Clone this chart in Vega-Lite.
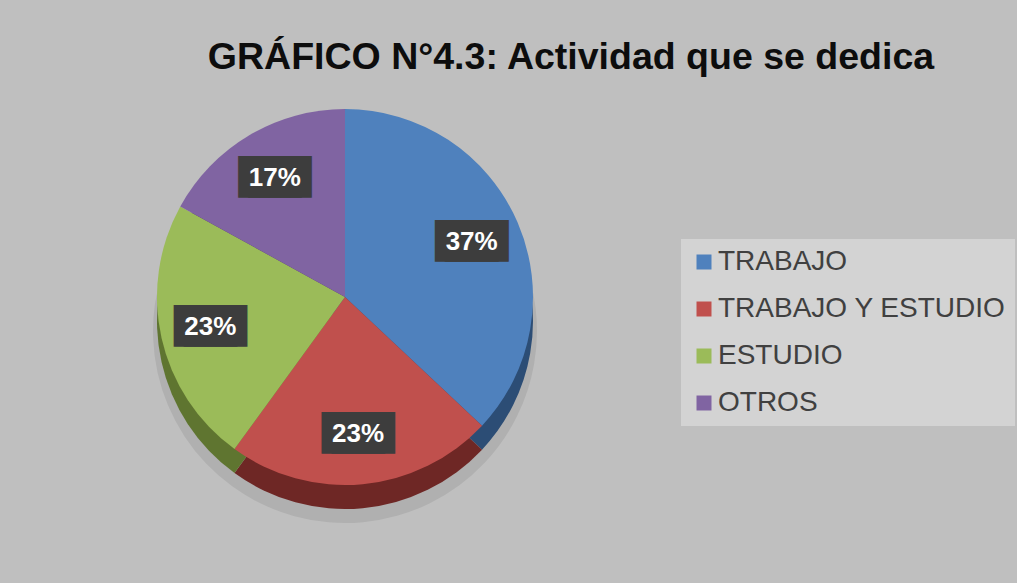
{
  "$schema": "https://vega.github.io/schema/vega-lite/v6.json",
  "width": 678,
  "height": 400,
  "autosize": {"type": "none"},
  "padding": {"left": 6, "top": 97, "right": 333, "bottom": 86},
  "background": "#bfbfbf",
  "view": {"stroke": null},
  "title": {
    "text": "GRÁFICO N°4.3: Actividad que se dedica",
    "font": "Liberation Sans",
    "fontSize": 37.5,
    "fontWeight": "bold",
    "color": "#0d0d0d",
    "anchor": "middle",
    "frame": "group",
    "dx": 226,
    "offset": -9,
    "baseline": "alphabetic"
  },
  "data": {
    "values": [
      {"cat": "TRABAJO", "pct": 0.37, "ord": 1},
      {"cat": "TRABAJO Y ESTUDIO", "pct": 0.23, "ord": 2},
      {"cat": "ESTUDIO", "pct": 0.23, "ord": 3},
      {"cat": "OTROS", "pct": 0.17, "ord": 4}
    ]
  },
  "encoding": {
    "theta": {"field": "pct", "type": "quantitative", "stack": true},
    "order": {"field": "ord", "type": "ordinal"}
  },
  "layer": [
    {
      "mark": {"type": "arc", "outerRadius": 192, "yOffset": 34, "fill": "#000000", "opacity": 0.08},
      "encoding": {"detail": {"field": "cat", "type": "nominal"}}
    },
    {
      "mark": {"type": "arc", "outerRadius": 188, "yOffset": 24},
      "encoding": {
        "fill": {
          "field": "cat",
          "type": "nominal",
          "scale": {
            "domain": ["TRABAJO", "TRABAJO Y ESTUDIO", "ESTUDIO", "OTROS"],
            "range": ["#2c4d75", "#6e2725", "#5f7530", "#4d3b62"]
          },
          "legend": null
        }
      }
    },
    {
      "mark": {"type": "arc", "outerRadius": 188},
      "encoding": {
        "color": {
          "field": "cat",
          "type": "nominal",
          "scale": {
            "domain": ["TRABAJO", "TRABAJO Y ESTUDIO", "ESTUDIO", "OTROS"],
            "range": ["#4f81bd", "#c0504d", "#9bbb59", "#8064a2"]
          },
          "legend": {
            "orient": "none",
            "legendX": 675,
            "legendY": 142,
            "title": null,
            "fillColor": "#d3d3d3",
            "padding": 9,
            "symbolType": "square",
            "symbolSize": 225,
            "symbolStrokeWidth": 0,
            "symbolOpacity": 1,
            "labelFont": "Liberation Sans",
            "labelFontSize": 28,
            "labelColor": "#404040",
            "rowPadding": 19,
            "labelOffset": 0,
            "labelLimit": 400
          }
        }
      }
    },
    {
      "mark": {"type": "text", "radius": 138, "font": "DejaVu Sans Mono", "fontSize": 35, "fill": "#3d3d3d", "dx": -5, "baseline": "middle"},
      "encoding": {"detail": {"field": "cat", "type": "nominal"}, "text": {"value": "███"}}
    },
    {
      "mark": {"type": "text", "radius": 138, "font": "DejaVu Sans Mono", "fontSize": 35, "fill": "#3d3d3d", "dx": 5, "baseline": "middle"},
      "encoding": {"detail": {"field": "cat", "type": "nominal"}, "text": {"value": "███"}}
    },
    {
      "mark": {"type": "text", "radius": 138, "font": "Liberation Sans", "fontSize": 26, "fontWeight": "bold", "fill": "#ffffff", "baseline": "middle"},
      "encoding": {
        "detail": {"field": "cat", "type": "nominal"},
        "text": {"field": "pct", "type": "quantitative", "format": ".0%"}
      }
    }
  ],
  "resolve": {"scale": {"fill": "independent", "color": "independent"}}
}
